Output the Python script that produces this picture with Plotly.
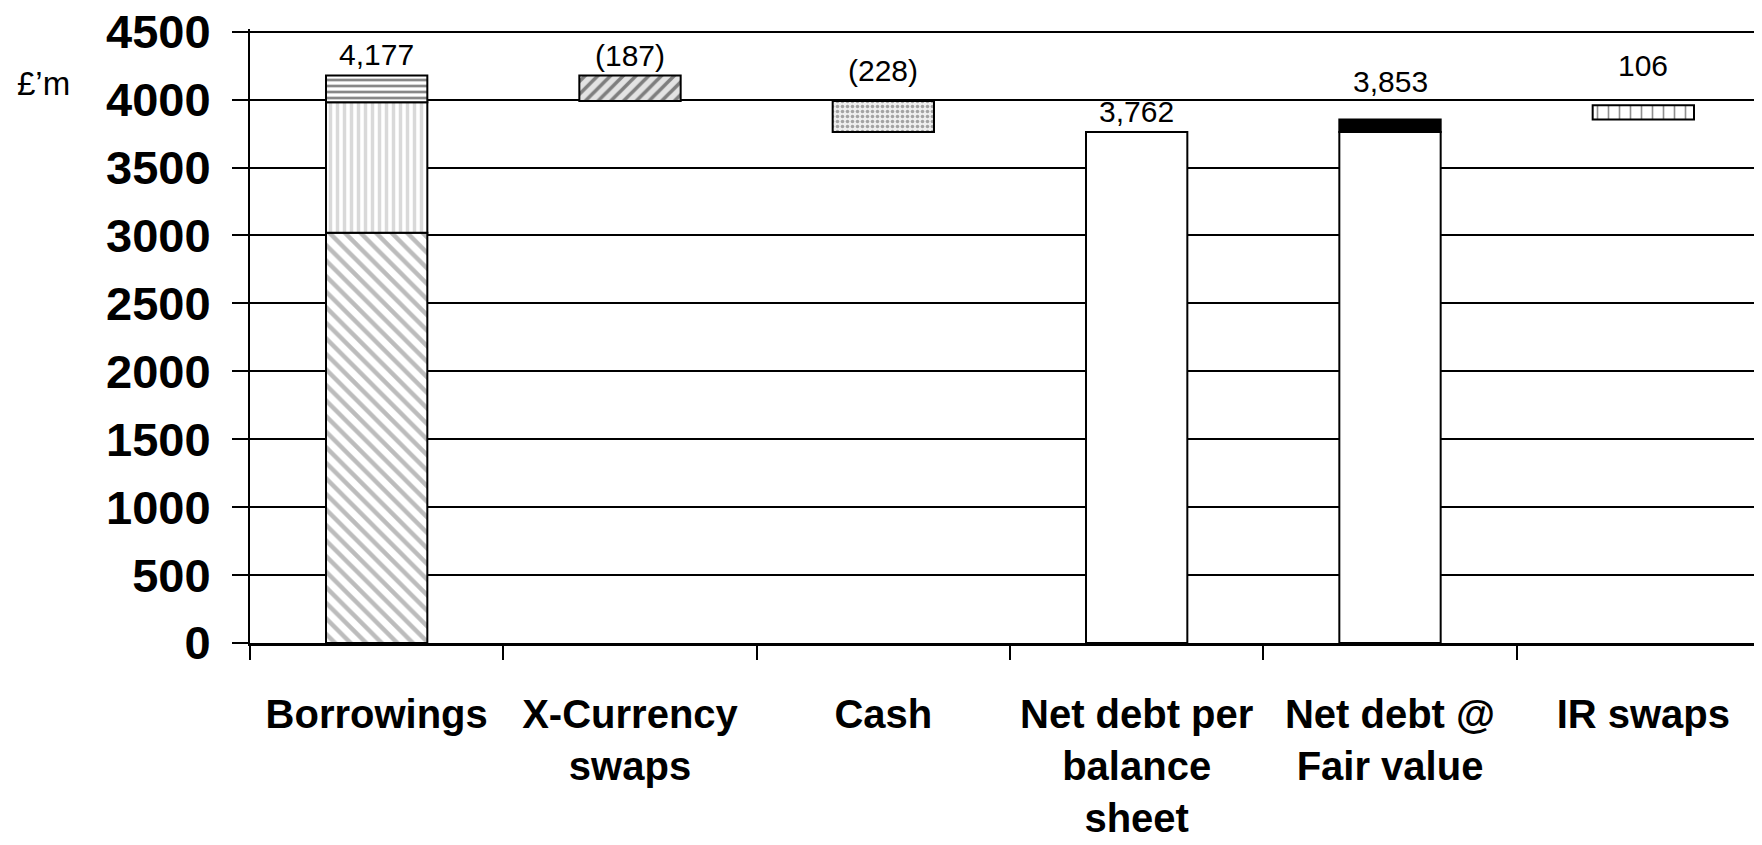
import plotly.graph_objects as go

# categories on the x axis (line breaks as in the source chart)
categories = [
    "Borrowings",
    "X-Currency<br>swaps",
    "Cash",
    "Net debt per<br>balance<br>sheet",
    "Net debt @<br>Fair value",
    "IR swaps",
]

# borrowings split into three stacked pieces (£'m)
borrowings_parts = [3020, 960, 197]
borrowings_total = 4177
xccy_swaps = -187
cash = -228
net_debt_bs = 3762
fair_value_adj = 91
net_debt_fv = 3853
ir_swaps = 106

value_labels = ["4,177", "(187)", "(228)", "3,762", "3,853", "106"]

# bar tops used for the value labels
xccy_base = borrowings_total + xccy_swaps
cash_base = xccy_base + cash
tops = [borrowings_total, borrowings_total, xccy_base,
        net_debt_bs, net_debt_fv, net_debt_fv + ir_swaps]
label_shift = [21, 20, 31, 20, 38, 40]

BAR_W = 0.4
LINE = dict(color="black", width=2)

fig = go.Figure()


def add_bar(cat, height, base, pattern=None, color="white"):
    marker = dict(color=color, line=LINE)
    if pattern:
        marker["pattern"] = pattern
    fig.add_trace(go.Bar(x=[cat], y=[height], base=[base], width=BAR_W,
                         marker=marker, showlegend=False, hoverinfo="skip"))


# Borrowings stack
b0 = 0
add_bar(categories[0], borrowings_parts[0], b0,
        dict(shape="\\", fgcolor="#7a7a7a", bgcolor="white", size=11, solidity=0.4))
b0 += borrowings_parts[0]
add_bar(categories[0], borrowings_parts[1], b0,
        dict(shape="|", fgcolor="#b4b4b4", bgcolor="white", size=7, solidity=0.5))
b0 += borrowings_parts[1]
add_bar(categories[0], borrowings_parts[2], b0,
        dict(shape="-", fgcolor="#111111", bgcolor="white", size=6, solidity=0.45))

# X-currency swaps (reduction)
add_bar(categories[1], -xccy_swaps, xccy_base,
        dict(shape="/", fgcolor="#1a1a1a", bgcolor="#e3e3e3", size=9, solidity=0.4))

# Cash (reduction)
add_bar(categories[2], -cash, cash_base,
        dict(shape=".", fgcolor="#555555", bgcolor="#eeeeee", size=5, solidity=0.4))

# Net debt per balance sheet
add_bar(categories[3], net_debt_bs, 0)

# Net debt at fair value
add_bar(categories[4], net_debt_bs, 0)
add_bar(categories[4], fair_value_adj, net_debt_bs, color="black")

# IR swaps
add_bar(categories[5], ir_swaps, net_debt_fv,
        dict(shape="|", fgcolor="#222222", bgcolor="white", size=11, solidity=0.15))

for cat, top, txt, sh in zip(categories, tops, value_labels, label_shift):
    fig.add_annotation(x=cat, y=top, text=txt, showarrow=False,
                       yanchor="middle", yshift=sh,
                       font=dict(family="Liberation Sans, Arial", size=30, color="black"))

fig.add_annotation(xref="paper", yref="paper", x=-0.1546, y=0.912,
                   xanchor="left", yanchor="middle", text="£’m", showarrow=False,
                   font=dict(family="Liberation Sans, Arial", size=33, color="black"))

# the page body adds an 8px offset, so margins are trimmed by that amount;
# range goes a little past 4500 so the top grid line and label are kept
fig.update_layout(
    width=1762, height=845,
    margin=dict(l=242, r=0, t=21, b=210),
    plot_bgcolor="white", paper_bgcolor="white",
    barmode="overlay", bargap=0.6,
)

fig.update_xaxes(
    type="category", categoryorder="array", categoryarray=categories,
    tickson="boundaries", ticks="outside", ticklen=14, tickwidth=1.5, tickcolor="black",
    showline=True, linecolor="black", linewidth=3, showgrid=False,
    ticklabelstandoff=34, automargin=False,
    tickfont=dict(family="Liberation Sans, Arial", size=40, color="black", weight="bold"),
)

fig.update_yaxes(
    range=[0, 4520], dtick=500, tick0=0,
    showgrid=True, gridcolor="black", gridwidth=2, zeroline=False,
    showline=True, linecolor="black", linewidth=2,
    ticks="outside", ticklen=16, tickwidth=2, tickcolor="black",
    ticklabelstandoff=12, ticklabeloverflow="allow", automargin=False,
    tickfont=dict(family="Liberation Sans, Arial", size=47, color="black", weight="bold"),
)

fig.write_html("out.html")
